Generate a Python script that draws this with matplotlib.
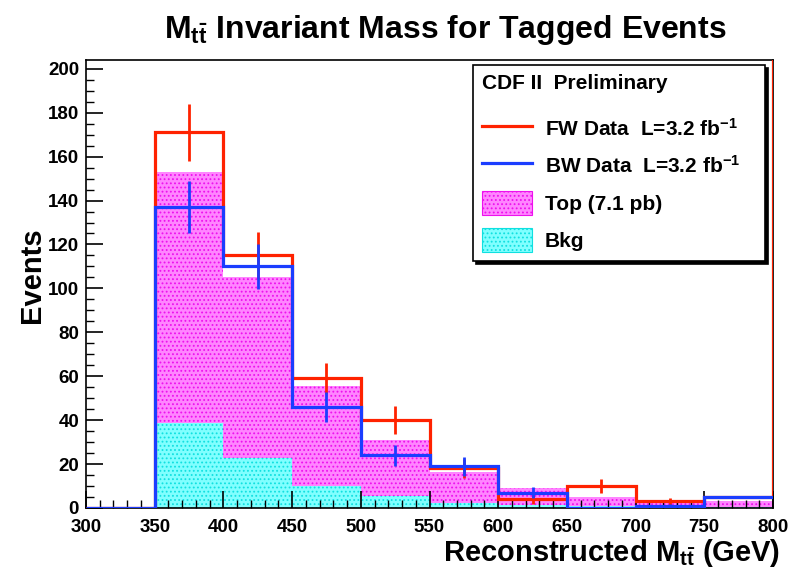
import numpy as np
import matplotlib
matplotlib.use('Agg')
import matplotlib.pyplot as plt
from matplotlib.lines import Line2D
from matplotlib.patches import Patch
from matplotlib.ticker import MultipleLocator

plt.rcParams['font.family'] = ['Liberation Sans', 'DejaVu Sans']
plt.rcParams['font.weight'] = 'bold'
plt.rcParams['mathtext.fontset'] = 'custom'
plt.rcParams['mathtext.rm'] = 'Liberation Sans:bold'
plt.rcParams['mathtext.it'] = 'Liberation Sans:bold'
plt.rcParams['mathtext.bf'] = 'Liberation Sans:bold'
plt.rcParams['hatch.linewidth'] = 0.8

# ---- data ----
bin_edges = [300, 350, 400, 450, 500, 550, 600, 650, 700, 750, 800]
fw_data = [0, 171, 115, 59, 40, 18, 4, 10, 3, 5]
fw_err = [0, 13.0, 10.7, 7.2, 6.3, 4.2, 2.0, 3.2, 1.7, 0.6]
bw_data = [0, 137, 110, 46, 24, 19, 7, 0, 1, 5]
bw_err = [0, 11.7, 10.4, 6.8, 4.8, 4.4, 2.6, 0.0, 1.0, 0.6]
bkg = [0, 38.7, 22.8, 10.0, 5.5, 2.3, 1.5, 1.0, 0.5, 0.5]
top_signal = [0, 114.3, 82.2, 45.6, 25.5, 14.2, 7.8, 4.0, 1.6, 2.5]
fw_overflow = 1000  # overflow bin of FW histogram (drawn edge at 800)

x_ticks = [300, 350, 400, 450, 500, 550, 600, 650, 700, 750, 800]
y_ticks = [0, 20, 40, 60, 80, 100, 120, 140, 160, 180, 200]

edges = np.array(bin_edges, dtype=float)
centers = 0.5 * (edges[:-1] + edges[1:])
bkg_a = np.array(bkg)
stack_a = bkg_a + np.array(top_signal)

RED = '#ff2200'
BLUE = '#1b3dff'
MAG_FACE = '#ff85ff'
MAG_HATCH = '#ee10ee'
CYA_FACE = '#80ffff'
CYA_HATCH = '#10e0e0'

fig = plt.figure(figsize=(7.93, 5.73), dpi=100)
ax = fig.add_axes([86 / 793, 1 - 508 / 573, 687 / 793, 448 / 573])

# stacked MC
ax.stairs(stack_a, edges, baseline=bkg_a, fill=True, facecolor=MAG_FACE,
          edgecolor=MAG_HATCH, hatch='....', linewidth=0, zorder=1)
ax.stairs(bkg_a, edges, baseline=0, fill=True, facecolor=CYA_FACE,
          edgecolor=CYA_HATCH, hatch='....', linewidth=0, zorder=1)

# data histograms
fw_vals = list(fw_data) + [fw_overflow]
fw_edges = list(bin_edges) + [bin_edges[-1] + 50]
ax.stairs(fw_vals, fw_edges, baseline=None, color=RED, linewidth=2.3, zorder=3)
ax.errorbar(centers, fw_data, yerr=fw_err, fmt='none', ecolor=RED,
            elinewidth=2.0, capsize=0, zorder=3)
ax.stairs(bw_data, edges, baseline=None, color=BLUE, linewidth=2.3, zorder=4)
ax.errorbar(centers, bw_data, yerr=bw_err, fmt='none', ecolor=BLUE,
            elinewidth=2.0, capsize=0, zorder=4)

ax.set_xlim(300, 800)
ax.set_ylim(0, 204)
ax.set_xticks(x_ticks)
ax.set_yticks(y_ticks)
ax.xaxis.set_minor_locator(MultipleLocator(10))
ax.yaxis.set_minor_locator(MultipleLocator(5))
ax.tick_params(axis='both', which='both', direction='in', top=False, right=False)
ax.tick_params(axis='both', which='major', length=12, width=1.2, labelsize=13.5)
ax.tick_params(axis='both', which='minor', length=6, width=1.0)
ax.tick_params(axis='y', which='major', pad=5)
ax.tick_params(axis='x', which='major', pad=8)
for lab in ax.get_xticklabels() + ax.get_yticklabels():
    lab.set_fontweight('bold')
for s in ax.spines.values():
    s.set_linewidth(1.2)
    s.set_color('black')

ax.set_ylabel('Events', fontsize=21, fontweight='bold', labelpad=2)
ax.yaxis.set_label_coords(-0.058, 0.52)
ax.set_xlabel(r'Reconstructed M$_{\mathrm{t\bar{t}}}$ (GeV)', fontsize=21,
              fontweight='bold', loc='right', labelpad=0)
ax.xaxis.set_label_coords(1.01, -0.065)
fig.text(445 / 793, 1 - 30 / 573, r'M$_{\mathrm{t\bar{t}}}$ Invariant Mass for Tagged Events',
         ha='center', va='center', fontsize=23, fontweight='bold')

handles = [
    Line2D([], [], color=RED, linewidth=2.3),
    Line2D([], [], color=BLUE, linewidth=2.3),
    Patch(facecolor=MAG_FACE, edgecolor=MAG_HATCH, hatch='....', linewidth=0.8),
    Patch(facecolor=CYA_FACE, edgecolor=CYA_HATCH, hatch='....', linewidth=0.8),
]
labels = [r'FW Data  L=3.2 fb$^{\mathrm{-1}}$', r'BW Data  L=3.2 fb$^{\mathrm{-1}}$',
          'Top (7.1 pb)', 'Bkg']
leg = ax.legend(handles, labels, title='CDF II  Preliminary', loc='upper left',
                bbox_to_anchor=(0.563, 0.989, 0.425, 0.0), mode='expand',
                frameon=True, fancybox=False, shadow={'color': 'black', 'alpha': 1},
                edgecolor='black', framealpha=1, borderaxespad=0,
                prop={'size': 15, 'weight': 'bold'},
                title_fontproperties={'size': 15, 'weight': 'bold'},
                handlelength=2.4, handleheight=1.4, handletextpad=0.6,
                labelspacing=0.62, borderpad=0.45)
leg._legend_box.align = 'left'
leg._legend_box.sep = 17
leg.get_frame().set_linewidth(1.2)

fig.savefig('out.png', dpi=100)
